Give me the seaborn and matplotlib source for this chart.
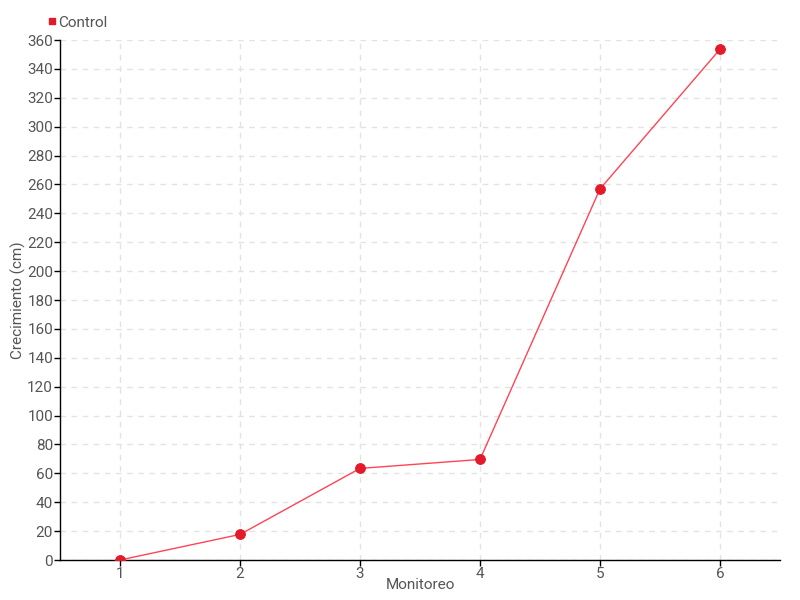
import matplotlib
matplotlib.use("Agg")
import matplotlib.pyplot as plt
import seaborn as sns
import pandas as pd
from matplotlib.lines import Line2D

monitoreo = [1, 2, 3, 4, 5, 6]
control = [0, 17.7, 63.4, 69.6, 256.9, 353.6]
series_name = "Control"

sns.set_theme(style="white")
plt.rcParams['font.family'] = ['Roboto', 'DejaVu Sans']

df = pd.DataFrame({"Monitoreo": monitoreo, "Crecimiento": control})

fig = plt.figure(figsize=(8, 6), dpi=100)
ax = fig.add_axes([0.075, 1 - 560/600, 0.9, 520/600])

sns.lineplot(data=df, x="Monitoreo", y="Crecimiento", ax=ax, color="#ff4455",
             linewidth=1.0, marker="o", markersize=7, markerfacecolor="#e31a2a",
             markeredgecolor="#e31a2a", zorder=3)

ax.set_xlim(0.5, 6.5)
ax.set_ylim(0, 360)
ax.set_xticks(monitoreo)
ax.set_yticks(range(0, 361, 20))
ax.grid(True, color="#e3e3e3", linestyle=(0, (4, 4)), linewidth=1)
for s in ["top", "right"]:
    ax.spines[s].set_visible(False)
for s in ["left", "bottom"]:
    ax.spines[s].set_color("black")
    ax.spines[s].set_linewidth(1)
ax.tick_params(axis="both", length=4, width=1, color="black", labelcolor="#555555",
               labelsize=11, pad=1, bottom=True, left=True)
ax.set_xlabel("Monitoreo", color="#555555", fontsize=11, labelpad=-2)
ax.set_ylabel("Crecimiento (cm)", color="#555555", fontsize=11, labelpad=1)

handle = Line2D([], [], marker="s", color="none", markerfacecolor="#e31a2a",
                markeredgecolor="#e31a2a", markersize=5)
fig.legend([handle], [series_name], loc="upper left", bbox_to_anchor=(0.042, 0.997),
           frameon=False, handletextpad=0.1, handlelength=0.6, fontsize=11,
           labelcolor="#555555")

fig.savefig("out.png", dpi=100)
